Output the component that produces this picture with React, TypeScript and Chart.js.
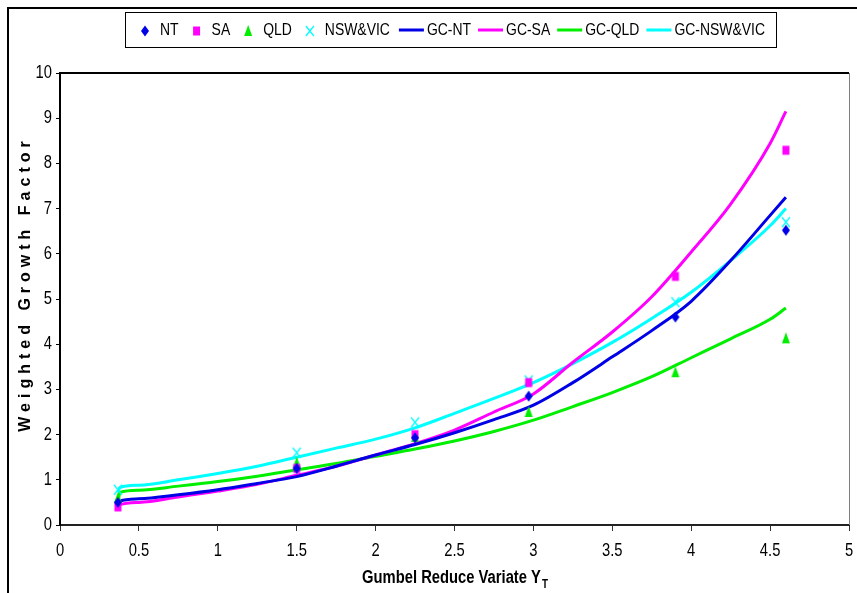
import React, { useEffect, useRef } from "react";
import { Chart, registerables } from "chart.js";

Chart.register(...registerables);

// ---- observed data points (x = Gumbel reduced variate) ----
const obsX = [0.367, 1.5, 2.25, 2.97, 3.9, 4.6];
const ntObs = [0.5, 1.25, 1.93, 2.85, 4.6, 6.52];
const saObs = [0.4, 1.25, 2.0, 3.15, 5.5, 8.29];
const qldObs = [0.6, 1.38, 1.95, 2.5, 3.38, 4.13];
const nswObs = [0.78, 1.6, 2.27, 3.2, 4.93, 6.7];

// ---- growth curves ----
const curveX = [0.366, 0.38, 0.5, 0.75, 1, 1.25, 1.5, 1.75, 2, 2.25, 2.5, 2.75, 3, 3.25, 3.5, 3.75, 4, 4.25, 4.5, 4.6];
const gcNT = [0.45, 0.53, 0.58, 0.67, 0.78, 0.92, 1.07, 1.3, 1.55, 1.78, 2.04, 2.33, 2.65, 3.15, 3.72, 4.3, 4.95, 5.85, 6.85, 7.25];
const gcSA = [0.32, 0.45, 0.5, 0.62, 0.75, 0.9, 1.1, 1.3, 1.55, 1.8, 2.1, 2.5, 2.9, 3.6, 4.27, 5.05, 6.04, 7.1, 8.44, 9.15];
const gcQLD = [0.45, 0.72, 0.77, 0.86, 0.96, 1.08, 1.22, 1.36, 1.52, 1.68, 1.86, 2.07, 2.32, 2.62, 2.93, 3.28, 3.7, 4.12, 4.55, 4.8];
const gcNSW = [0.72, 0.83, 0.88, 1.0, 1.14, 1.3, 1.5, 1.7, 1.9, 2.15, 2.47, 2.8, 3.15, 3.57, 4.04, 4.57, 5.15, 5.85, 6.62, 7.0];

const xTickLabels = ["0", "0.5", "1", "1.5", "2", "2.5", "3", "3.5", "4", "4.5", "5"];
const yTickLabels = ["0", "1", "2", "3", "4", "5", "6", "7", "8", "9", "10"];
const legendLabels = ["NT", "SA", "QLD", "NSW&VIC", "GC-NT", "GC-SA", "GC-QLD", "GC-NSW&VIC"];
const xTitle = "Gumbel Reduce Variate Y";
const xTitleSub = "T";
const yTitle = "Weighted Growth Factor";

const BLUE = "#0000e6";
const MAGENTA = "#ff00ff";
const GREEN = "#00ee00";
const CYAN = "#00ffff";
const FONT = "'Liberation Sans', Arial, sans-serif";
const NARROW = 0.82;

const pts = (xs: number[], ys: number[]) => xs.map((x, i) => ({ x, y: ys[i] }));

function narrowText(ctx: CanvasRenderingContext2D, text: string, x: number, y: number, align: CanvasTextAlign) {
  ctx.save();
  ctx.translate(x, y);
  ctx.scale(NARROW, 1);
  ctx.textAlign = align;
  ctx.fillText(text, 0, 0);
  ctx.restore();
}

function drawMarker(ctx: CanvasRenderingContext2D, kind: string, x: number, y: number, color: string) {
  ctx.save();
  ctx.fillStyle = color;
  ctx.strokeStyle = color;
  ctx.beginPath();
  if (kind === "diamond") {
    ctx.moveTo(x, y - 5.5);
    ctx.lineTo(x + 4, y);
    ctx.lineTo(x, y + 5.5);
    ctx.lineTo(x - 4, y);
    ctx.closePath();
    ctx.fill();
  } else if (kind === "square") {
    ctx.rect(x - 3.5, y - 4.5, 7, 9);
    ctx.fill();
  } else if (kind === "triangle") {
    ctx.moveTo(x, y - 6);
    ctx.lineTo(x + 4, y + 5);
    ctx.lineTo(x - 4, y + 5);
    ctx.closePath();
    ctx.fill();
  } else if (kind === "cross") {
    ctx.lineWidth = 1.3;
    ctx.moveTo(x - 4, y - 5);
    ctx.lineTo(x + 4, y + 5);
    ctx.moveTo(x + 4, y - 5);
    ctx.lineTo(x - 4, y + 5);
    ctx.stroke();
  }
  ctx.restore();
}

function markerCanvas(kind: string, color: string) {
  const c = document.createElement("canvas");
  c.width = 12;
  c.height = 14;
  const ctx = c.getContext("2d")!;
  drawMarker(ctx, kind, 6, 7, color);
  return c;
}

const decor = {
  id: "decor",
  beforeDraw(chart: any) {
    const { ctx } = chart;
    ctx.save();
    ctx.fillStyle = "#fff";
    ctx.fillRect(0, 0, chart.width, chart.height);
    ctx.strokeStyle = "#000";
    ctx.lineWidth = 2;
    ctx.strokeRect(8, 8, chart.width + 20, chart.height + 20);
    ctx.restore();
  },
  afterDraw(chart: any) {
    const { ctx, chartArea: a } = chart;
    const xs = chart.scales.x;
    const ys = chart.scales.y;
    ctx.save();
    // plot area top + right
    ctx.strokeStyle = "#000";
    ctx.lineWidth = 2;
    ctx.beginPath();
    ctx.moveTo(a.left, a.top);
    ctx.lineTo(a.right, a.top);
    ctx.stroke();
    ctx.strokeStyle = "#808080";
    ctx.lineWidth = 1;
    ctx.beginPath();
    ctx.moveTo(a.right + 0.5, a.top);
    ctx.lineTo(a.right + 0.5, a.bottom);
    ctx.stroke();

    // tick labels
    ctx.fillStyle = "#000";
    ctx.font = `18px ${FONT}`;
    ctx.textBaseline = "middle";
    xTickLabels.forEach((t) => {
      narrowText(ctx, t, xs.getPixelForValue(parseFloat(t)), 551, "center");
    });
    yTickLabels.forEach((t) => {
      narrowText(ctx, t, 52, ys.getPixelForValue(parseFloat(t)), "right");
    });

    // legend
    const kinds = ["diamond", "square", "triangle", "cross", "line", "line", "line", "line"];
    const colors = [BLUE, MAGENTA, GREEN, CYAN, BLUE, MAGENTA, GREEN, CYAN];
    ctx.font = `17px ${FONT}`;
    ctx.textBaseline = "middle";
    const cy = 30;
    let cx = 136;
    legendLabels.forEach((lab, i) => {
      if (kinds[i] === "line") {
        ctx.strokeStyle = colors[i];
        ctx.lineWidth = 3;
        ctx.beginPath();
        ctx.moveTo(cx, cy);
        ctx.lineTo(cx + 25, cy);
        ctx.stroke();
        cx += 28;
      } else {
        drawMarker(ctx, kinds[i], cx + 9, cy + 1, colors[i]);
        cx += 24;
      }
      ctx.fillStyle = "#000";
      narrowText(ctx, lab, cx, cy, "left");
      cx += ctx.measureText(lab).width * NARROW + (kinds[i] === "line" ? 7 : 9);
    });
    ctx.strokeStyle = "#000";
    ctx.lineWidth = 1;
    ctx.strokeRect(125.5, 12.5, cx - 125 + 4, 35);

    // x title with subscript
    ctx.fillStyle = "#000";
    ctx.textBaseline = "alphabetic";
    ctx.font = `bold 18px ${FONT}`;
    const w1 = ctx.measureText(xTitle).width * NARROW;
    ctx.font = `bold 12px ${FONT}`;
    const w2 = ctx.measureText(xTitleSub).width * NARROW;
    const xc = (a.left + a.right) / 2;
    const x0 = xc - (w1 + w2) / 2;
    ctx.font = `bold 18px ${FONT}`;
    narrowText(ctx, xTitle, x0, 583, "left");
    ctx.font = `bold 12px ${FONT}`;
    narrowText(ctx, xTitleSub, x0 + w1 + 1, 588, "left");

    // y title
    ctx.save();
    ctx.translate(26, 284);
    ctx.rotate(-Math.PI / 2);
    ctx.font = `bold 16px ${FONT}`;
    (ctx as any).letterSpacing = "5px";
    ctx.textAlign = "center";
    ctx.textBaseline = "middle";
    ctx.fillText(yTitle, 0, 0);
    ctx.restore();
    ctx.restore();
  },
};

export default function App() {
  const ref = useRef<HTMLCanvasElement | null>(null);
  useEffect(() => {
    document.body.style.margin = "0";
    const lineDs = (label: string, ys: number[], color: string) => ({
      type: "line" as const,
      label,
      data: pts(curveX, ys),
      borderColor: color,
      backgroundColor: color,
      borderWidth: 3,
      pointRadius: 0,
      showLine: true,
      cubicInterpolationMode: "monotone" as const,
      fill: false,
    });
    const scatterDs = (label: string, ys: number[], kind: string, color: string) => ({
      type: "scatter" as const,
      label,
      data: pts(obsX, ys),
      pointStyle: markerCanvas(kind, color),
      backgroundColor: color,
      borderColor: color,
      pointRadius: 5,
      showLine: false,
    });
    const chart = new Chart(ref.current!, {
      type: "scatter",
      data: {
        datasets: [
          scatterDs(legendLabels[0], ntObs, "diamond", BLUE),
          scatterDs(legendLabels[1], saObs, "square", MAGENTA),
          scatterDs(legendLabels[2], qldObs, "triangle", GREEN),
          scatterDs(legendLabels[3], nswObs, "cross", CYAN),
          lineDs(legendLabels[4], gcNT, BLUE),
          lineDs(legendLabels[5], gcSA, MAGENTA),
          lineDs(legendLabels[6], gcQLD, GREEN),
          lineDs(legendLabels[7], gcNSW, CYAN),
        ] as any,
      },
      options: {
        animation: false,
        responsive: false,
        devicePixelRatio: 1,
        layout: { padding: { left: 0, top: 73, right: 8, bottom: 0 } },
        plugins: { legend: { display: false }, tooltip: { enabled: false } },
        scales: {
          x: {
            type: "linear",
            min: 0,
            max: 5,
            ticks: { stepSize: 0.5, display: false },
            grid: { drawOnChartArea: false, drawTicks: true, tickLength: 6, color: "#333" },
            border: { display: true, color: "#222", width: 2 },
            afterFit: (s: any) => { s.height = 68; },
          },
          y: {
            type: "linear",
            min: 0,
            max: 10,
            ticks: { stepSize: 1, display: false },
            grid: { drawOnChartArea: false, drawTicks: true, tickLength: 4, color: "#000" },
            border: { display: true, color: "#000", width: 2 },
            afterFit: (s: any) => { s.width = 60; },
          },
        },
      },
      plugins: [decor],
    });
    return () => chart.destroy();
  }, []);
  return <canvas ref={ref} width={857} height={593} style={{ display: "block" }} />;
}
